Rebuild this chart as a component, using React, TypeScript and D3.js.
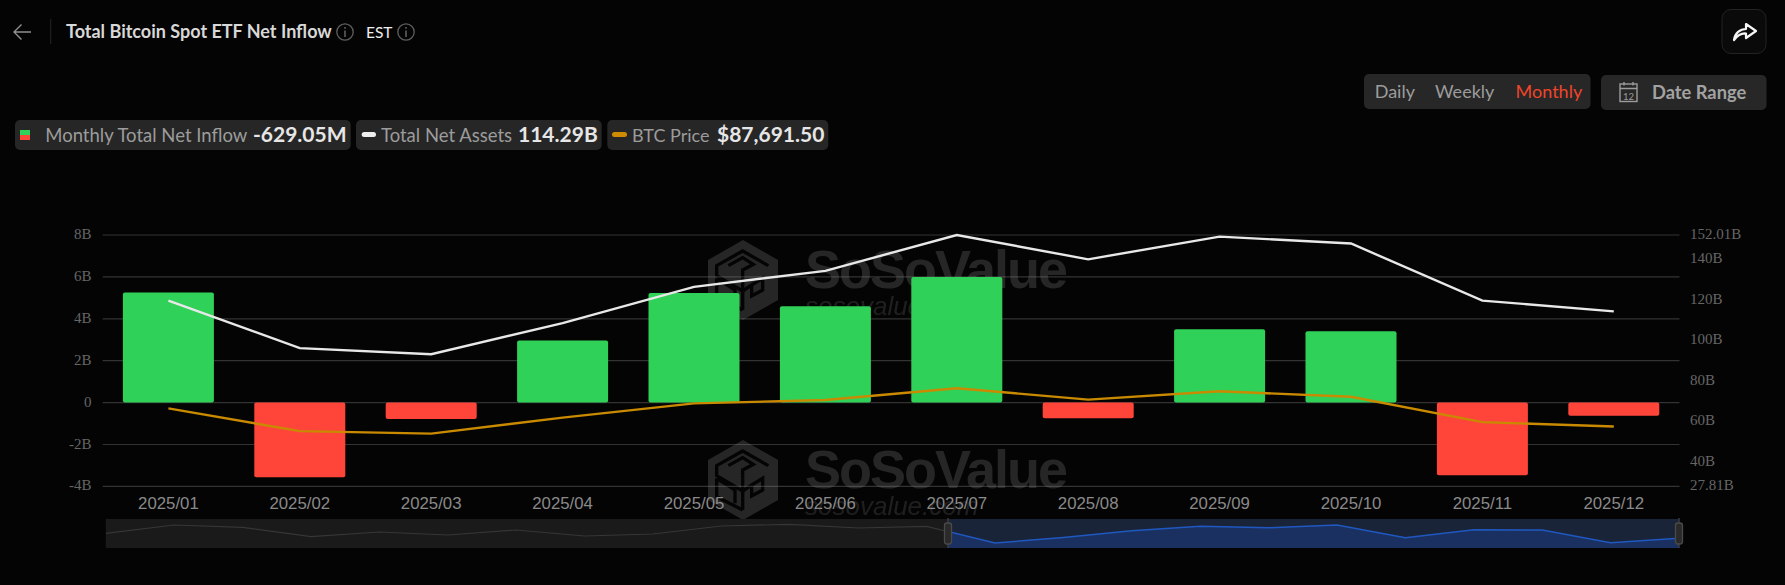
import React from "react";
import * as d3 from "d3";

const months = ["2025/01","2025/02","2025/03","2025/04","2025/05","2025/06","2025/07","2025/08","2025/09","2025/10","2025/11","2025/12"];
const netInflow = [5.25,-3.56,-0.78,2.97,5.23,4.6,6.0,-0.75,3.5,3.4,-3.47,-0.629];
const netAssets = [119.6,96.1,93.1,108.5,126.4,134.3,152.01,140,151.2,147.8,119.6,114.29];
const btcPrice = [101000,84300,82500,94200,104600,107100,115700,107400,113500,109500,90900,87691.5];
const leftTicks = [-4,-2,0,2,4,6,8];
const rightTicks = [27.81,40,60,80,100,120,140,152.01];
const overviewLevels = [50.7,79.3,71.4,39,55.2,44.8,62,41.4,48.3,75.9,81.7,69,74.8,17.2,36.2,59.7,74.8,70,79.3,35.5,63.1,62,18.3,33.4];
const overviewIdx = overviewLevels.map((_, i) => i);

const W = 1785, H = 585;
const plot = { left: 102.7, right: 1679.5, top: 235, bottom: 486.4 };
const mini = { left: 105.8, right: 1679, top: 519, bottom: 548, handle: 948 };
const LATO = "Lato, sans-serif";
const SERIF = "'Liberation Serif', serif";
const SANS = "'Liberation Sans', sans-serif";

const x = d3.scaleBand<string>().domain(months).range([plot.left, plot.right]);
const yLeft = d3.scaleLinear().domain([-4, 8]).range([plot.bottom, plot.top]);
const yRight = d3.scaleLinear().domain([27.81, 152.01]).range([plot.bottom, plot.top]);
const yPrice = d3.scaleLinear().domain([43860, 227880]).range([plot.bottom, plot.top]);
const barW = 91;
const cx = (m: string) => (x(m) as number) + x.bandwidth() / 2;

const assetLine = d3.line<number>().x((_, i) => cx(months[i])).y((d) => yRight(d));
const priceLine = d3.line<number>().x((_, i) => cx(months[i])).y((d) => yPrice(d));
const mx = d3.scaleLinear().domain([0, 23]).range([mini.left, mini.right]);
const my = d3.scaleLinear().domain([0, 100]).range([mini.bottom, mini.top]);
const miniLine = d3.line<number>().x((i) => mx(i)).y((i) => my(overviewLevels[i]));
const miniArea = d3.area<number>().x((i) => mx(i)).y0(mini.bottom).y1((i) => my(overviewLevels[i]));

function Watermark({ dy }: { dy: number }) {
  const c = "#8a8a8a";
  return (
    <g transform={`translate(0,${dy})`} opacity={0.25}>
      <path
        mask="url(#logoCut)"
        d="M743 240 L778 260 L778 300 L743 320 L708 300 L708 260 Z"
        fill={c}
      />
      <text x={805} y={288} fontFamily={SANS} fontWeight={700} fontSize={54} letterSpacing={-2.0} fill={c}>SoSoValue</text>
      <text x={805} y={315} fontFamily={SANS} fontStyle="italic" fontSize={26} fill={c} opacity={0.8}>sosovalue.com</text>
    </g>
  );
}

function Info({ cx: a, cy: b }: { cx: number; cy: number }) {
  return (
    <g stroke="#5f5f5f" fill="none" strokeWidth={1.3}>
      <circle cx={a} cy={b} r={8.2} />
      <path d={`M${a} ${b - 1.5} V${b + 5}`} strokeWidth={1.6} />
      <path d={`M${a} ${b - 5} V${b - 3.2}`} strokeWidth={1.6} />
    </g>
  );
}

export default function App() {
  return (
    <svg width={W} height={H} viewBox={`0 0 ${W} ${H}`} style={{ position: "absolute", left: 0, top: 0, display: "block", background: "#040404" }}>
      <defs>
        <mask id="logoCut" maskUnits="userSpaceOnUse" x={700} y={230} width={90} height={100}>
          <rect x={700} y={230} width={90} height={100} fill="#fff" />
          <g transform="translate(700,235) scale(0.3333)" fill="none" stroke="#000" strokeWidth={10} strokeLinejoin="miter">
            <path d="M205 92 L128 48 L50 92 L50 122 L128 168 L128 130" />
            <path d="M128 130 L128 105 L160 88 L128 68 L85 92" />
            <path d="M50 130 L105 165 L105 205 M128 168 L155 150 L188 130 L188 165 L155 183 L155 150 M128 168 L128 225 M50 130 L50 185 L128 225" />
          </g>
        </mask>
        <clipPath id="miniLeft"><rect x={mini.left} y={mini.top} width={mini.handle - mini.left} height={mini.bottom - mini.top} /></clipPath>
        <clipPath id="miniRight"><rect x={mini.handle} y={mini.top} width={mini.right - mini.handle} height={mini.bottom - mini.top} /></clipPath>
      </defs>
      <rect width={W} height={H} fill="#040404" />

      {/* header */}
      <path d="M31 32 H14 M21.5 24.5 L14 32 L21.5 39.5" fill="none" stroke="#8f8f8f" strokeWidth={1.4} />
      <line x1={50.7} x2={50.7} y1={19} y2={44} stroke="#262626" />
      <text x={66} y={37.5} fontFamily={LATO} fontWeight={700} fontSize={18} fill="#d8d8d8">Total Bitcoin Spot ETF Net Inflow</text>
      <Info cx={345} cy={32} />
      <text x={366} y={37.5} fontFamily={LATO} fontSize={15.5} fill="#f0f0f0">EST</text>
      <Info cx={406} cy={32} />

      <rect x={1722} y={9.5} width={44} height={44} rx={9} fill="#0a0a0a" stroke="#232323" />
      <path d="M1734 40 C1735 33 1740 29 1746 29 V24 L1756 31 L1746 38 V33.5 C1741 33 1737 36 1734 40 Z" fill="none" stroke="#f5f5f5" strokeWidth={2.2} strokeLinejoin="round" />

      <rect x={1364} y={74} width={226.5} height={35} rx={5} fill="#272727" />
      <text x={1374.7} y={98} fontFamily={LATO} fontSize={18} fill="#9c9c9c">Daily</text>
      <text x={1435} y={98} fontFamily={LATO} fontSize={18} fill="#9c9c9c">Weekly</text>
      <text x={1515.6} y={98} fontFamily={LATO} fontSize={18} fill="#f0452a">Monthly</text>
      <rect x={1601} y={75} width={165.5} height={35} rx={5} fill="#272727" />
      <g stroke="#9c9c9c" fill="none" strokeWidth={1.4}>
        <rect x={1620} y={84} width={17} height={17.5} />
        <path d="M1620 88.5 H1637 M1624 82 V85.5 M1633 82 V85.5" />
      </g>
      <text x={1628.5} y={99.5} textAnchor="middle" fontFamily={LATO} fontSize={9.5} fill="#9c9c9c">12</text>
      <text x={1652} y={98.5} fontFamily={LATO} fontWeight={700} fontSize={18.3} fill="#a2a2a2">Date Range</text>

      {/* legend */}
      <rect x={15} y={120} width={335.7} height={30} rx={5} fill="#262626" />
      <rect x={20} y={130} width={10} height={5} fill="#30d158" />
      <rect x={20} y={135} width={10} height={5} fill="#ff453a" />
      <text x={45.3} y={141.5} fontFamily={LATO} fontSize={18.5} fill="#9c9c9c">Monthly Total Net Inflow</text>
      <text x={253} y={142} fontFamily={LATO} fontWeight={700} fontSize={21} fill="#e6e6e6">-629.05M</text>

      <rect x={356} y={120} width={245.7} height={30} rx={5} fill="#262626" />
      <rect x={361.7} y={132} width={14.3} height={5} rx={2.5} fill="#eeeeee" />
      <text x={381} y={141.5} fontFamily={LATO} fontSize={18.5} fill="#9c9c9c">Total Net Assets</text>
      <text x={518} y={142} fontFamily={LATO} fontWeight={700} fontSize={21} fill="#e6e6e6">114.29B</text>

      <rect x={607.3} y={120} width={221} height={30} rx={5} fill="#262626" />
      <rect x={612} y={132} width={15} height={5} rx={2.5} fill="#d08c00" />
      <text x={632} y={141.5} fontFamily={LATO} fontSize={18} fill="#9c9c9c">BTC Price</text>
      <text x={717} y={142} fontFamily={LATO} fontWeight={700} fontSize={21} fill="#e6e6e6">$87,691.50</text>

      {/* grid */}
      {leftTicks.map((t) => (
        <line key={t} x1={plot.left} x2={plot.right} y1={yLeft(t)} y2={yLeft(t)} stroke="#333333" strokeWidth={1.2} />
      ))}

      {/* left axis */}
      {leftTicks.map((t) => (
        <text key={t} x={91.5} y={yLeft(t) + 4} textAnchor="end" fontFamily={SERIF} fontSize={15} fill="#666666">{t === 0 ? "0" : `${t}B`}</text>
      ))}
      {/* right axis */}
      {rightTicks.map((t) => (
        <text key={t} x={1690} y={yRight(t) + 4} fontFamily={SERIF} fontSize={15} fill="#666666">{Number.isInteger(t) ? `${t}B` : `${t.toFixed(2)}B`}</text>
      ))}

      <Watermark dy={0} />
      <Watermark dy={200} />

      {/* bars */}
      {netInflow.map((v, i) => (
        <rect key={months[i]} x={cx(months[i]) - barW / 2} y={Math.min(yLeft(v), yLeft(0))} width={barW} height={Math.abs(yLeft(v) - yLeft(0))} rx={2}
          fill={v >= 0 ? "#30d158" : "#ff453a"} />
      ))}

      {/* lines */}
      <path d={assetLine(netAssets) as string} fill="none" stroke="#e8e8e8" strokeWidth={2.4} />
      <path d={priceLine(btcPrice) as string} fill="none" stroke="#c98a00" strokeWidth={2.4} />

      {/* x axis */}
      {months.map((m) => (
        <text key={m} x={cx(m)} y={509} textAnchor="middle" fontFamily={SANS} fontSize={16.8} fill="#8a8a8a">{m}</text>
      ))}

      {/* overview */}
      <rect x={mini.left} y={mini.top} width={mini.handle - mini.left} height={mini.bottom - mini.top} fill="#1a1a1a" />
      <path d={miniLine(overviewIdx) as string} fill="none" stroke="#363636" strokeWidth={1.2} clipPath="url(#miniLeft)" />
      <rect x={mini.handle} y={mini.top} width={mini.right - mini.handle} height={mini.bottom - mini.top} fill="#1a2438" />
      <path d={miniArea(overviewIdx) as string} fill="#1a3060" clipPath="url(#miniRight)" />
      <path d={miniLine(overviewIdx) as string} fill="none" stroke="#1f58c0" strokeWidth={1.5} clipPath="url(#miniRight)" />
      {[mini.handle, mini.right].map((h) => (
        <g key={h}>
          <line x1={h} x2={h} y1={mini.top - 1} y2={mini.bottom} stroke="#3c3c3c" strokeWidth={1.5} />
          <rect x={h - 3.5} y={523} width={7} height={21} rx={2.5} fill="#2a2a2a" stroke="#4a4a4a" strokeWidth={1.3} />
        </g>
      ))}
    </svg>
  );
}
